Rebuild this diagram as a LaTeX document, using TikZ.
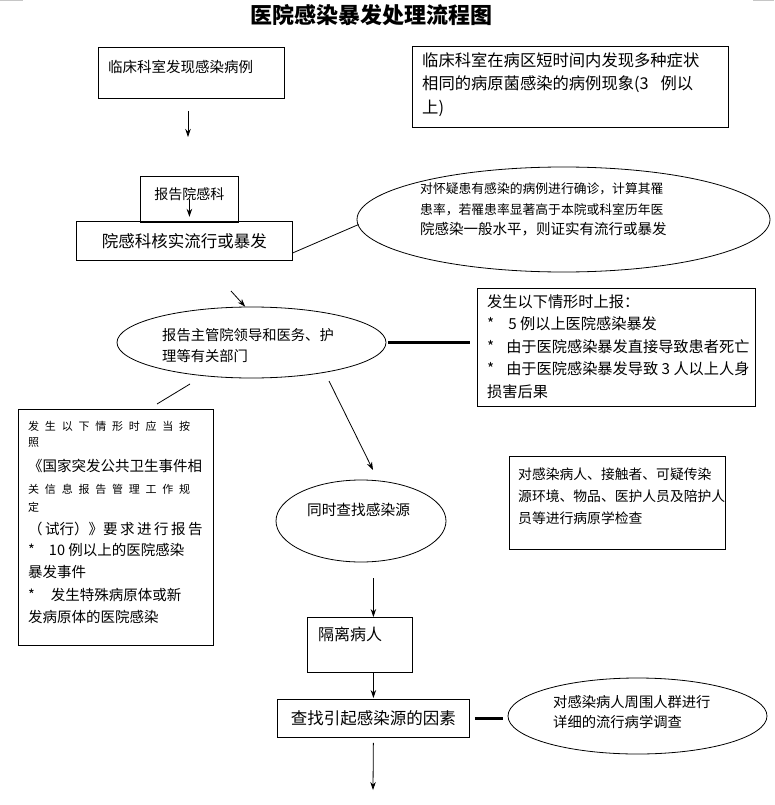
\documentclass[tikz,border=0pt]{standalone}
\usepackage{fontspec}
\setmainfont{Noto Sans CJK SC}
\usetikzlibrary{shapes.geometric, arrows.meta, positioning, calc}

\begin{document}
\begin{tikzpicture}[x=1pt, y=-1pt,
    box/.style={rectangle, draw=black, line width=0.8pt, inner sep=0pt, anchor=north west},
    oval/.style={ellipse, draw=black, line width=0.8pt, inner sep=0pt},
    txt/.style={anchor=north west, inner sep=0pt, align=left},
    arrow/.style={line width=0.8pt, ->, >={Stealth[length=8pt, width=5.5pt]}},
    link/.style={line width=0.8pt},
    bar/.style={line width=3pt}
]
\useasboundingbox (0,0) rectangle (774,805);
\draw [gray!45, line width=1pt] (0,0.5) -- (23,0.5);
\draw [gray!45, line width=1pt] (753,1) -- (774,1);
\node (title) [font=\fontsize{22}{24}\selectfont\bfseries] at (371,15) {医院感染暴发处理流程图};
% top row
\node (found) [box, minimum width=186pt, minimum height=51pt] at (98,47) {};
\node (foundt) [txt, font=\fontsize{14.5}{20}\selectfont] at ([shift={(10pt,-12.5pt)}]found.north west) {临床科室发现感染病例};
\node (cond) [box, minimum width=316pt, minimum height=81pt] at (412,46) {};
\node (condt) [txt, font=\fontsize{16.3}{23.5}\selectfont] at ([shift={(10pt,-6pt)}]cond.north west) {临床科室在病区短时间内发现多种症状\\相同的病原菌感染的病例现象(3\hspace{12pt}例以\\上)};
\coordinate (a1e) at (188,137);
\draw [arrow, shorten <=12pt] (a1e |- found.south) -- (a1e);
% report / verify
\node (rep) [box, minimum width=98pt, minimum height=46pt] at (140,176) {};
\node (rept) [font=\fontsize{14}{16}\selectfont, inner sep=0pt] at ([yshift=5pt]rep.center) {报告院感科};
\draw [arrow, shorten >=6pt] (rep.center) -- (rep.south);
\node (hs) [box, minimum width=216pt, minimum height=39pt, font=\fontsize{16.5}{18}\selectfont] at (76,221) {院感科核实流行或暴发};
\node (conf) [oval, minimum width=413pt, minimum height=105pt] at (563.5,219.5) {};
\node (conft) [txt, font=\fontsize{12.8}{20.5}\selectfont] at (420,182.5) {对怀疑患有感染的病例进行确诊，计算其罹\\患率，若罹患率显著高于本院或科室历年医\\{\fontsize{14.5}{20.5}\selectfont 院感染一般水平，则证实有流行或暴发}};
\draw [link] ([yshift=-12pt]hs.east) -- ([shift={(2pt,-5pt)}]conf.west);
% report to leaders
\node (rpt) [oval, minimum width=269pt, minimum height=71pt] at (251.5,342.5) {};
\node (rptt) [txt, font=\fontsize{14.3}{21.5}\selectfont] at (162,328) {报告主管院领导和医务、护\\理等有关部门};
\coordinate (a2) at (231,291);
\draw [arrow] (a2) -- (rpt.100);
\node (rb1) [box, minimum width=278pt, minimum height=118pt] at (477,288) {};
\node (rb1t) [txt, font=\fontsize{15.2}{22.5}\selectfont] at (487,294) {发生以下情形时上报：\\*\hspace{14pt}5 例以上医院感染暴发\\*\hspace{12pt}由于医院感染暴发直接导致患者死亡\\*\hspace{12pt}由于医院感染暴发导致 3 人以上人身\\损害后果};
\draw [bar, shorten <=2pt, shorten >=7pt] (rpt.east) -- (rpt.east -| rb1.west);
% national rules box
\node (nat) [box, minimum width=195pt, minimum height=236pt] at (18,409) {};
\node (natt) [txt, font=\fontsize{14.5}{22}\selectfont] at (28,421) {\makebox[162pt][s]{\fontsize{11}{22}\selectfont 发\hfill 生\hfill 以\hfill 下\hfill 情\hfill 形\hfill 时\hfill 应\hfill 当\hfill 按}\\[-6pt]
{\fontsize{11}{22}\selectfont 照}\\[2.5pt]
《国家突发公共卫生事件相\\[0.5pt]
\makebox[162pt][s]{\fontsize{11}{22}\selectfont 关\hfill 信\hfill 息\hfill 报\hfill 告\hfill 管\hfill 理\hfill 工\hfill 作\hfill 规}\\[-4pt]
{\fontsize{11}{22}\selectfont 定}\\[0.5pt]
（\hspace{2.5pt}试行）》要\hspace{2.5pt}求\hspace{2.5pt}进\hspace{2.5pt}行\hspace{2.5pt}报\hspace{2.5pt}告\\[-1pt]
*\hspace{14pt}10 例以上的医院感染\\
暴发事件\\[1pt]
*\hspace{16pt}发生特殊病原体或新\\
发病原体的医院感染};
\coordinate (c3a) at (190,384);
\coordinate (c3b) at (157,404);
\draw [link] (c3a) -- (c3b);
% search source
\node (src) [oval, minimum width=170pt, minimum height=82pt] at (361,521) {};
\node (srct) [font=\fontsize{14.7}{16}\selectfont, inner sep=0pt] at ([shift={(-2.5pt,11pt)}]src.center) {同时查找感染源};
\coordinate (a4) at (329,381);
\coordinate (a4e) at (373,470);
\draw [arrow] (a4) -- (a4e);
\node (test) [box, minimum width=216pt, minimum height=93pt] at (509,456) {};
\node (testt) [txt, font=\fontsize{13.8}{22}\selectfont] at (518,468) {对感染病人、接触者、可疑传染\\源环境、物品、医护人员及陪护人\\员等进行病原学检查};
% bottom column
\node (iso) [box, minimum width=105pt, minimum height=55pt] at (307,617) {};
\node (isot) [txt, font=\fontsize{16}{18}\selectfont] at (318,627) {隔离病人};
\node (fac) [box, minimum width=192pt, minimum height=38pt, font=\fontsize{16.5}{18}\selectfont] at (277,699) {查找引起感染源的因素};
\draw [arrow, shorten <=16pt] (fac.north |- src.south) -- (fac.north |- iso.north);
\draw [arrow, shorten >=1pt] (fac.north |- iso.south) -- (fac.north);
\node (survey) [oval, minimum width=259pt, minimum height=76pt] at (637.5,716) {};
\node (surveyt) [txt, font=\fontsize{14.3}{20}\selectfont] at (553,695) {对感染病人周围人群进行\\详细的流行病学调查};
\draw [bar, shorten <=5pt, shorten >=5pt] (fac.east) -- (fac.east -| survey.west);
\coordinate (fin) at (373,790);
\draw [arrow, shorten <=5pt] (fac.south) -- (fin);
\end{tikzpicture}
\end{document}
